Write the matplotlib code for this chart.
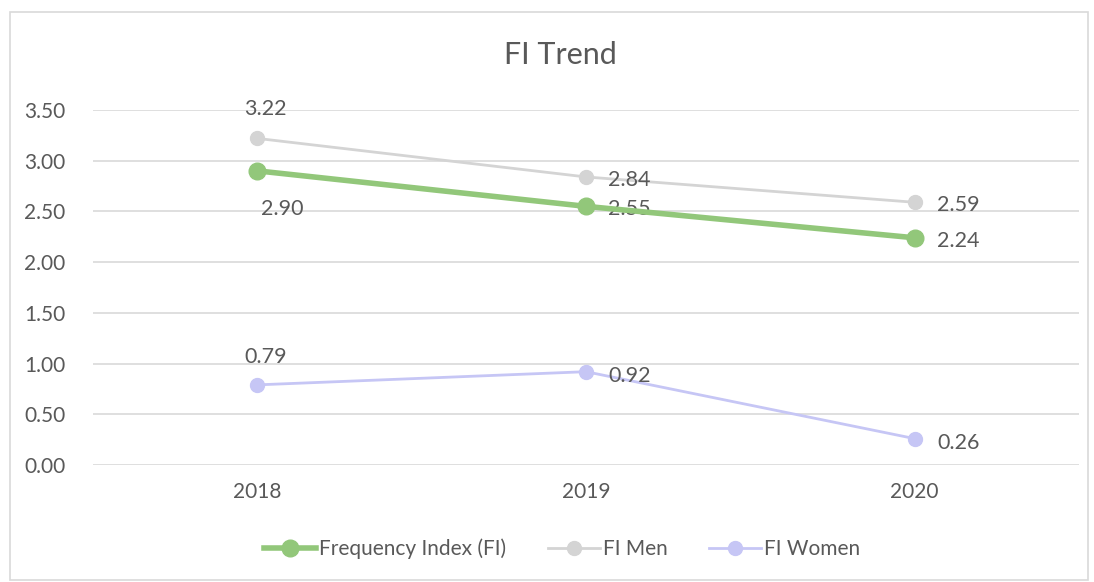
import matplotlib
matplotlib.use("Agg")
import matplotlib.pyplot as plt
from matplotlib.patches import Rectangle

years = ["2018", "2019", "2020"]
fi_total = [2.90, 2.55, 2.24]
fi_men = [3.22, 2.84, 2.59]
fi_women = [0.79, 0.92, 0.26]
yticks = [0.0, 0.5, 1.0, 1.5, 2.0, 2.5, 3.0, 3.5]

plt.rcParams['font.family'] = ['Lato', 'DejaVu Sans']
txt = '#595959'

fig = plt.figure(figsize=(10.94, 5.82), dpi=100)
fig.patches.append(Rectangle((10/1094, 2/582), 1078/1094, 568/582, transform=fig.transFigure,
                             fill=False, edgecolor='#D9D9D9', linewidth=1.2))
ax = fig.add_axes([93/1094, 1-465/582, 986/1094, 355/582])
x = list(range(len(years)))

ax.plot(x, fi_men, color='#D4D4D4', lw=2, marker='o', ms=10, label='FI Men', zorder=3)
ax.plot(x, fi_total, color='#92C77A', lw=4, marker='o', ms=12, label='Frequency Index (FI)', zorder=4)
ax.plot(x, fi_women, color='#C6C6F5', lw=2, marker='o', ms=10, label='FI Women', zorder=3)

ax.set_xlim(-0.5, 2.5)
ax.set_ylim(0, 3.5)
ax.set_yticks(yticks)
ax.set_yticklabels([f"{v:.2f}" for v in yticks])
ax.set_xticks(x)
ax.set_xticklabels(years)
ax.grid(axis='y', color='#D9D9D9', lw=1.2)
ax.set_axisbelow(True)
for s in ax.spines.values():
    s.set_visible(False)
ax.tick_params(length=0, labelsize=15, colors=txt, pad=12)
ax.tick_params(axis='y', pad=20)

fs = 15.5
# labels
ax.annotate(f"{fi_men[0]:.2f}", (x[0], fi_men[0]), xytext=(6, 14), textcoords='offset points', ha='center', va='bottom', fontsize=fs, color=txt)
ax.annotate(f"{fi_total[0]:.2f}", (x[0], fi_total[0]), xytext=(18, -20), textcoords='offset points', ha='center', va='top', fontsize=fs, color=txt)
ax.annotate(f"{fi_women[0]:.2f}", (x[0], fi_women[0]), xytext=(6, 13), textcoords='offset points', ha='center', va='bottom', fontsize=fs, color=txt)
for i in [1, 2]:
    ax.annotate(f"{fi_men[i]:.2f}", (x[i], fi_men[i]), xytext=(16, -2), textcoords='offset points', ha='left', va='center', fontsize=fs, color=txt)
    ax.annotate(f"{fi_total[i]:.2f}", (x[i], fi_total[i]), xytext=(16, -2), textcoords='offset points', ha='left', va='center', fontsize=fs, color=txt)
    ax.annotate(f"{fi_women[i]:.2f}", (x[i], fi_women[i]), xytext=(16, -3), textcoords='offset points', ha='left', va='center', fontsize=fs, color=txt)

fig.text(560/1094, 1-55/582, "FI Trend", ha='center', va='center', fontsize=22, color=txt)

handles, labels = ax.get_legend_handles_labels()
order = [1, 0, 2]
fig.legend([handles[i] for i in order], [labels[i] for i in order], loc='center',
           bbox_to_anchor=(562/1094, 1-549/582), ncol=3, frameon=False, fontsize=15,
           labelcolor=txt, handlelength=2.5, columnspacing=2.0, handletextpad=0.15)

fig.savefig("out.png", dpi=100)
